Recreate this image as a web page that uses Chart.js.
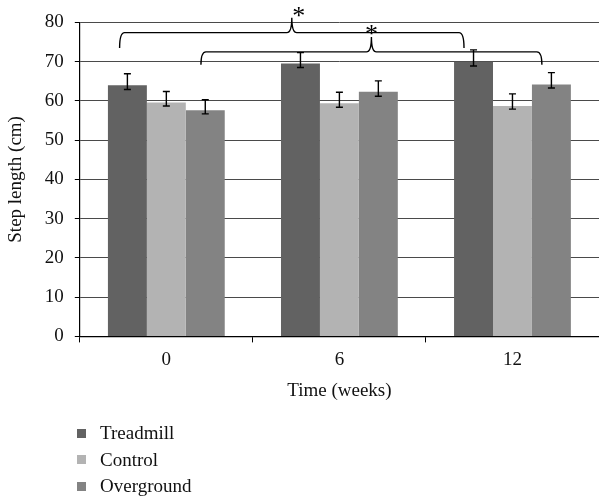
<!DOCTYPE html>
<html>
<head>
<meta charset="utf-8">
<script src="https://cdn.jsdelivr.net/npm/chart.js@4/dist/chart.umd.min.js"></script>
<style>
  html, body { margin: 0; padding: 0; background: #fff; }
  #wrap { position: relative; width: 599px; height: 500px; }
  #c { position: absolute; left: 0; top: 0; }
  #legend { position: absolute; left: 77px; top: 420px; font-family: 'Liberation Serif', 'DejaVu Serif', serif; font-size: 19px; color: #111; }
  #legend .row { display: flex; align-items: center; height: 26.5px; }
  #legend .sw { width: 9px; height: 9px; margin-right: 14px; }
</style>
</head>
<body>
<div id="wrap">
  <canvas id="c" width="599" height="500"></canvas>
  <div id="legend"></div>
</div>
<script>
// ---- data ----
const categories = ['0', '6', '12'];
const seriesNames = ['Treadmill', 'Control', 'Overground'];
const treadmill = [64.0, 69.5, 70.0];
const control = [59.6, 59.4, 58.7];
const overground = [57.6, 62.3, 64.2];
// error bar ends (upper / lower)
const treadmillHigh = [66.9, 72.3, 73.0];
const treadmillLow = [62.9, 68.5, 68.9];
const controlHigh = [62.4, 62.2, 61.8];
const controlLow = [58.7, 58.4, 57.9];
const overgroundHigh = [60.3, 65.1, 67.2];
const overgroundLow = [56.7, 61.2, 63.3];
const yTicks = [0, 10, 20, 30, 40, 50, 60, 70, 80];
// significance braces: [from category, to category, line level, end level, peak level, star level, star shift (categories)]
const brace1 = [-0.27, 1.72, 77.4, 73.5, 81.2, 82.6, 0.04];
const brace2 = [0.20, 2.17, 72.5, 69.2, 76.3, 78.0, 0.0];
const braceLabel = '*';

const colors = ['#626262', '#b3b3b3', '#838383'];
const values = [treadmill, control, overground];
const highs = [treadmillHigh, controlHigh, overgroundHigh];
const lows = [treadmillLow, controlLow, overgroundLow];
const FONT = "'Liberation Serif', 'DejaVu Serif', serif";

const errorBarPlugin = {
  id: 'errorBars',
  afterDatasetsDraw(chart) {
    const ctx = chart.ctx;
    const y = chart.scales.y;
    ctx.save();
    ctx.strokeStyle = '#000';
    ctx.lineWidth = 1.4;
    chart.data.datasets.forEach((ds, di) => {
      const meta = chart.getDatasetMeta(di);
      meta.data.forEach((bar, i) => {
        const x = bar.x;
        const yt = y.getPixelForValue(highs[di][i]);
        const yb = y.getPixelForValue(lows[di][i]);
        const cap = 3.5;
        ctx.beginPath();
        ctx.moveTo(x, yt); ctx.lineTo(x, yb);
        ctx.moveTo(x - cap, yt); ctx.lineTo(x + cap, yt);
        ctx.moveTo(x - cap, yb); ctx.lineTo(x + cap, yb);
        ctx.stroke();
      });
    });
    ctx.restore();
  }
};

function drawBrace(chart, b) {
  const ctx = chart.ctx;
  const xs = chart.scales.x, ys = chart.scales.y;
  const x1 = xs.getPixelForValue(b[0]);
  const x2 = xs.getPixelForValue(b[1]);
  const xm = (x1 + x2) / 2;
  const yl = ys.getPixelForValue(b[2]);
  const ye = ys.getPixelForValue(b[3]);
  const yp = ys.getPixelForValue(b[4]);
  const ya = ys.getPixelForValue(b[5]);
  const xa = xs.getPixelForValue((b[0] + b[1]) / 2 + b[6]);
  const r = 5;
  ctx.beginPath();
  ctx.moveTo(x1, ye);
  ctx.quadraticCurveTo(x1, yl, x1 + r, yl);
  ctx.lineTo(xm - r, yl);
  ctx.quadraticCurveTo(xm, yl, xm, yp);
  ctx.quadraticCurveTo(xm, yl, xm + r, yl);
  ctx.lineTo(x2 - r, yl);
  ctx.quadraticCurveTo(x2, yl, x2, ye);
  ctx.stroke();
  const m = ctx.measureText(braceLabel);
  const asc = m.actualBoundingBoxAscent, desc = m.actualBoundingBoxDescent;
  ctx.fillText(braceLabel, xa, ya + (asc - desc) / 2);
}

const bracePlugin = {
  id: 'braces',
  afterDraw(chart) {
    const ctx = chart.ctx;
    ctx.save();
    ctx.strokeStyle = '#000';
    ctx.fillStyle = '#000';
    ctx.lineWidth = 1.4;
    ctx.font = '26px ' + FONT;
    ctx.textAlign = 'center';
    ctx.textBaseline = 'alphabetic';
    drawBrace(chart, brace1);
    drawBrace(chart, brace2);
    ctx.restore();
  }
};

const chart = new Chart(document.getElementById('c'), {
  type: 'bar',
  data: {
    labels: categories,
    datasets: seriesNames.map((n, i) => ({
      label: n,
      data: values[i],
      backgroundColor: colors[i],
      borderWidth: 0,
      categoryPercentage: 0.675,
      barPercentage: 1.0
    }))
  },
  options: {
    responsive: false,
    animation: false,
    devicePixelRatio: 1,
    layout: { padding: { top: 16, right: 0, bottom: 98, left: 5 } },
    plugins: { legend: { display: false }, tooltip: { enabled: false } },
    scales: {
      x: {
        grid: { drawOnChartArea: false, drawTicks: true, tickLength: 6, color: '#000', offset: true },
        border: { display: true, color: '#000', width: 1.2 },
        ticks: { color: '#111', font: { family: FONT, size: 19 }, padding: 6 },
        title: { display: true, text: 'Time (weeks)', color: '#111', font: { family: FONT, size: 19 }, padding: { top: 2, bottom: 0 } }
      },
      y: {
        min: 0, max: 80,
        afterBuildTicks(scale) { scale.ticks = yTicks.map(v => ({ value: v })); },
        grid: { color: '#4a4a4a', lineWidth: 1, tickLength: 5, tickColor: '#000' },
        border: { display: true, color: '#000', width: 1.2 },
        ticks: { color: '#111', font: { family: FONT, size: 19 }, padding: 11 },
        title: { display: true, text: 'Step length (cm)', color: '#111', font: { family: FONT, size: 19 }, padding: { top: 0, bottom: 6 } }
      }
    }
  },
  plugins: [errorBarPlugin, bracePlugin]
});

const legendEl = document.getElementById('legend');
chart.data.datasets.forEach(ds => {
  const row = document.createElement('div');
  row.className = 'row';
  const sw = document.createElement('span');
  sw.className = 'sw';
  sw.style.background = ds.backgroundColor;
  const t = document.createElement('span');
  t.textContent = ds.label;
  row.appendChild(sw); row.appendChild(t);
  legendEl.appendChild(row);
});
</script>
</body>
</html>
